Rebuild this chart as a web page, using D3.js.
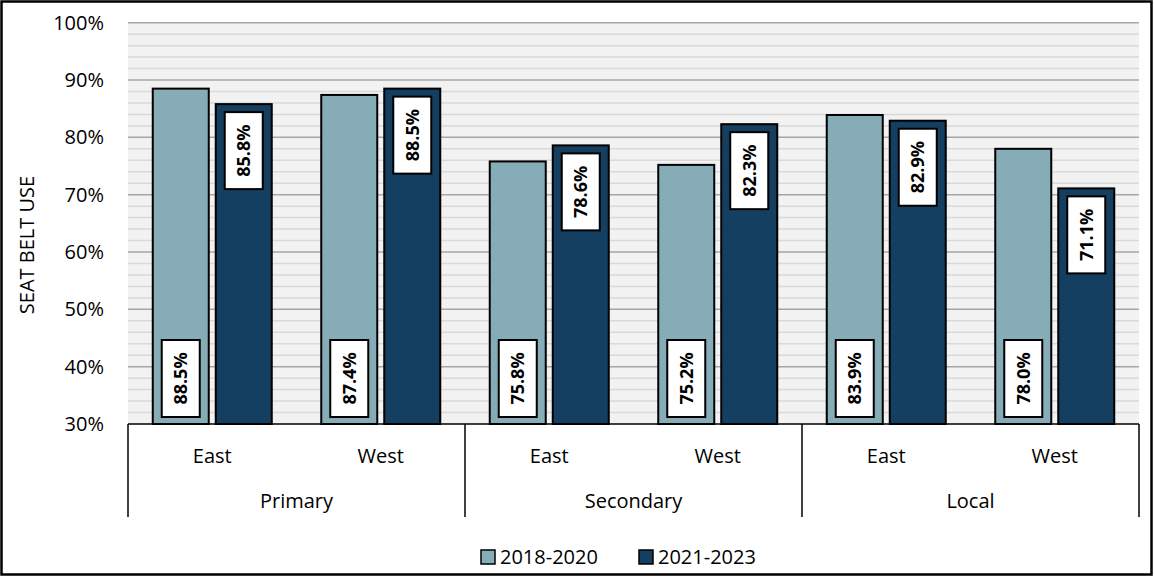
<!DOCTYPE html>
<html><head><meta charset="utf-8">
<script src="https://cdn.jsdelivr.net/npm/d3@7"></script>
<style>body{margin:0;background:#fff;}svg{display:block;font-family:"Open Sans","Liberation Sans",sans-serif;}</style>
</head><body>
<svg id="c" width="1154" height="577"></svg>
<script>
const groups = ["Primary","Secondary","Local"];
const regions = ["East","West"];
const seriesNames = ["2018-2020","2021-2023"];
const series2018 = [88.5, 87.4, 75.8, 75.2, 83.9, 78.0];
const series2021 = [85.8, 88.5, 78.6, 82.3, 82.9, 71.1];
const yTicks = [30,40,50,60,70,80,90,100];
const colors = ["#86ADB7","#153F60"];

const svg = d3.select("#c");
const L=128, R=1139, T=22.7, B=424;
svg.append("rect").attr("x",1.5).attr("y",1.5).attr("width",1150).attr("height",573).attr("fill","#fff").attr("stroke","#000").attr("stroke-width",2.5);

const y = d3.scaleLinear().domain([30,100]).range([B,T]);
const cats = [];
groups.forEach(g=>regions.forEach(r=>cats.push(g+"|"+r)));
const x = d3.scaleBand().domain(cats).range([L,R]);
const xg = d3.scaleBand().domain(groups).range([L,R]);

svg.append("rect").attr("x",L).attr("y",T).attr("width",R-L).attr("height",B-T).attr("fill","#F2F2F2");
const minor = d3.range(32,100,2).filter(v=>v%10!==0);
svg.append("g").selectAll("line").data(minor).join("line")
 .attr("x1",L).attr("x2",R).attr("y1",d=>y(d)).attr("y2",d=>y(d)).attr("stroke","#D9D9D9").attr("stroke-width",1.5);
svg.append("g").selectAll("line").data(yTicks.filter(v=>v>30)).join("line")
 .attr("x1",L).attr("x2",R).attr("y1",d=>y(d)).attr("y2",d=>y(d)).attr("stroke","#A6A6A6").attr("stroke-width",1.5);

const ya = svg.append("g").attr("transform",`translate(${L},0)`)
 .call(d3.axisLeft(y).tickValues(yTicks).tickFormat(d=>d+"%").tickSize(0).tickPadding(24));
ya.select(".domain").remove();
ya.selectAll("text").attr("font-size",20).attr("fill","#000").attr("font-family","'Open Sans',sans-serif");

svg.append("text").attr("transform",`translate(27,245) rotate(-90)`).attr("text-anchor","middle")
 .attr("dy","0.36em").attr("font-size",20).text("SEAT BELT USE");

const bw = 56, gap = 7;
const data = [];
cats.forEach((c,i)=>{
  data.push({c, s:0, v:series2018[i]});
  data.push({c, s:1, v:series2021[i]});
});
const bx = d=> x(d.c)+x.bandwidth()/2 + (d.s===0 ? -gap/2-bw : gap/2);
svg.append("g").selectAll("rect").data(data).join("rect")
 .attr("x",bx).attr("y",d=>y(d.v)).attr("width",bw).attr("height",d=>B-y(d.v))
 .attr("fill",d=>colors[d.s]).attr("stroke","#000").attr("stroke-width",2);

const bW=38, bH=77;
const lab = svg.append("g").selectAll("g").data(data).join("g")
 .attr("transform",d=>{
   const cx = bx(d)+bw/2;
   const cy = d.s===0 ? B-7-bH/2 : y(d.v)+8+bH/2;
   return `translate(${cx},${cy})`;
 });
lab.append("rect").attr("x",-bW/2).attr("y",-bH/2).attr("width",bW).attr("height",bH)
 .attr("fill","#fff").attr("stroke","#000").attr("stroke-width",2);
lab.append("text").attr("transform","rotate(-90)").attr("text-anchor","middle").attr("dy","0.36em")
 .attr("font-size",18).attr("font-weight","bold").text(d=>d.v.toFixed(1)+"%");

const ax = svg.append("g");
ax.append("line").attr("x1",L).attr("x2",R).attr("y1",B).attr("y2",B).attr("stroke","#000").attr("stroke-width",1.5);
const bounds = groups.map(g=>xg(g)).concat([R]);
ax.selectAll("line.v").data(bounds).join("line").attr("class","v")
 .attr("x1",d=>d).attr("x2",d=>d).attr("y1",B).attr("y2",517).attr("stroke","#000").attr("stroke-width",1.5);
ax.selectAll("text.r").data(cats).join("text").attr("class","r")
 .attr("x",d=>x(d)+x.bandwidth()/2).attr("y",463).attr("text-anchor","middle").attr("font-size",20)
 .text(d=>d.split("|")[1]);
ax.selectAll("text.g").data(groups).join("text").attr("class","g")
 .attr("x",d=>xg(d)+xg.bandwidth()/2).attr("y",508).attr("text-anchor","middle").attr("font-size",20)
 .text(d=>d);

const lg = svg.append("g").selectAll("g").data(seriesNames).join("g")
 .attr("transform",(d,i)=>`translate(${[481,639][i]},550)`);
lg.append("rect").attr("width",14).attr("height",14).attr("fill",(d,i)=>colors[i]).attr("stroke","#000").attr("stroke-width",1.5);
lg.append("text").attr("x",19).attr("y",7).attr("dy","0.36em").attr("font-size",20).text(d=>d);
</script>
</body></html>
